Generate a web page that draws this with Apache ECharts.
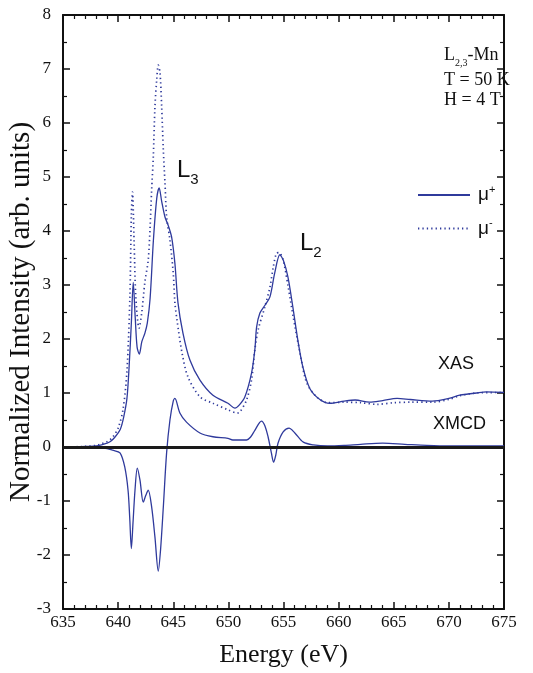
<!DOCTYPE html>
<html>
<head>
<meta charset="utf-8">
<script src="https://cdn.jsdelivr.net/npm/echarts@6/dist/echarts.min.js"></script>
<style>
  html, body { margin: 0; padding: 0; background: #fff; }
  #chart { width: 533px; height: 673px; }
</style>
</head>
<body>
<div id="chart"></div>
<script>
// Mn L2,3-edge absorption spectra for the two circular polarisations and their difference (XMCD)
const muPlusEnergy = [635, 636, 637, 638, 638.5, 639, 639.3, 639.7, 640.2, 640.5, 640.8, 641.0, 641.2, 641.37, 641.55, 641.72, 641.92, 642.15, 642.43, 642.65, 642.9, 643.2, 643.5, 643.72, 643.95, 644.25, 644.55, 644.85, 645.15, 645.43, 645.88, 646.51, 647.42, 648.6, 649.96, 650.6, 651.0, 651.5, 652.1, 652.4, 652.56, 652.86, 653.3, 653.77, 654.2, 654.67, 655.0, 655.4, 655.85, 656.3, 656.76, 657.4, 658.3, 659.2, 660.5, 661.5, 662.8, 664.0, 665.3, 666.5, 668.5, 670.0, 671.0, 672.5, 673.4, 675];
const muPlusValue = [0.0, 0.0, 0.01, 0.02, 0.04, 0.07, 0.1, 0.18, 0.33, 0.55, 0.9, 1.5, 2.3, 3.05, 2.4, 1.85, 1.72, 1.95, 2.11, 2.3, 2.75, 3.83, 4.6, 4.8, 4.55, 4.26, 4.1, 3.89, 3.4, 2.67, 2.11, 1.61, 1.24, 0.96, 0.81, 0.72, 0.78, 0.93, 1.37, 1.8, 2.22, 2.48, 2.62, 2.78, 3.22, 3.56, 3.45, 3.15, 2.59, 1.98, 1.48, 1.08, 0.88, 0.81, 0.85, 0.87, 0.83, 0.86, 0.9, 0.88, 0.85, 0.9, 0.96, 1.0, 1.02, 1.01];

const muMinusEnergy = [635, 637, 638, 638.5, 639, 639.5, 640.0, 640.44, 640.8, 641.07, 641.2, 641.3, 641.45, 641.6, 641.9, 642.15, 642.43, 642.73, 642.9, 643.04, 643.19, 643.34, 643.5, 643.64, 643.8, 643.95, 644.1, 644.25, 644.4, 644.7, 645.0, 645.15, 645.34, 645.8, 646.33, 647.42, 648.6, 649.96, 650.8, 651.05, 651.65, 652.1, 652.4, 652.7, 653.3, 653.77, 654.07, 654.37, 654.6, 654.97, 655.43, 655.88, 656.5, 657.1, 658.0, 659, 660.5, 662, 663.5, 665, 666.5, 668.5, 670, 671, 672.5, 675];
const muMinusValue = [0, 0.01, 0.03, 0.06, 0.1, 0.18, 0.35, 0.69, 1.4, 2.8, 4.3, 4.72, 3.8, 2.8, 2.2, 2.5, 3.06, 3.46, 4.07, 4.76, 5.37, 6.3, 6.8, 7.07, 6.93, 6.3, 5.5, 4.89, 4.26, 3.83, 3.22, 2.67, 2.35, 1.74, 1.3, 0.93, 0.81, 0.69, 0.63, 0.65, 0.87, 1.24, 1.8, 2.17, 2.59, 2.96, 3.33, 3.59, 3.6, 3.46, 2.96, 2.41, 1.74, 1.19, 0.93, 0.82, 0.83, 0.82, 0.79, 0.82, 0.83, 0.83, 0.88, 0.95, 1.0, 1.01];

const xmcdEnergy = [635, 637, 638, 639, 639.5, 640.17, 640.6, 640.9, 641.05, 641.2, 641.35, 641.53, 641.74, 641.98, 642.28, 642.5, 642.73, 643.04, 643.34, 643.64, 643.85, 644.1, 644.4, 644.7, 645.0, 645.15, 645.6, 646.2, 647.42, 648.6, 649.96, 650.4, 651.65, 652.0, 652.4, 653.0, 653.3, 653.6, 653.9, 654.1, 654.3, 654.5, 654.97, 655.5, 656.03, 656.8, 657.7, 659, 660.5, 662, 664, 666, 668, 670, 675];
const xmcdValue = [0, 0, -0.01, -0.03, -0.06, -0.11, -0.37, -0.8, -1.3, -1.88, -1.4, -0.8, -0.39, -0.61, -1.02, -0.9, -0.8, -1.11, -1.67, -2.3, -1.9, -1.11, -0.1, 0.5, 0.85, 0.9, 0.63, 0.46, 0.26, 0.19, 0.16, 0.13, 0.13, 0.18, 0.31, 0.48, 0.4, 0.19, -0.11, -0.28, -0.15, 0.07, 0.28, 0.35, 0.26, 0.09, 0.04, 0.02, 0.03, 0.05, 0.07, 0.05, 0.03, 0.02, 0.02];

const energyTicks = [635, 640, 645, 650, 655, 660, 665, 670, 675];
const intensityTicks = [-3, -2, -1, 0, 1, 2, 3, 4, 5, 6, 7, 8];

const legendNames = ['μ+', 'μ-'];

const pairs = (xs, ys) => xs.map((x, i) => [x, ys[i]]);

const lineColor = '#2f3a9c';
const serif = '"Liberation Serif", "DejaVu Serif", serif';
const sans = '"Liberation Sans", Arial, sans-serif';

const chart = echarts.init(document.getElementById('chart'), null, { renderer: 'canvas' });

const baseX = {
  type: 'value',
  min: energyTicks[0],
  max: energyTicks[energyTicks.length - 1],
  interval: 5,
  splitLine: { show: false },
  axisLine: { onZero: false, lineStyle: { color: '#111', width: 2 } },
  axisTick: { inside: true, length: 7, lineStyle: { color: '#111', width: 1.5 } },
  minorTick: { show: true, splitNumber: 5, length: 4, lineStyle: { color: '#111', width: 1.2 } }
};
const baseY = {
  type: 'value',
  min: intensityTicks[0],
  max: intensityTicks[intensityTicks.length - 1],
  interval: 1,
  splitLine: { show: false },
  axisLine: { onZero: false, lineStyle: { color: '#111', width: 2 } },
  axisTick: { inside: true, length: 7, lineStyle: { color: '#111', width: 1.5 } },
  minorTick: { show: true, splitNumber: 2, length: 4, lineStyle: { color: '#111', width: 1.2 } }
};

chart.setOption({
  animation: false,
  backgroundColor: '#fff',
  grid: { left: 63, right: 29, top: 15, bottom: 64, containLabel: false, outerBoundsMode: 'none' },
  xAxis: [
    Object.assign({}, baseX, {
      position: 'bottom',
      name: 'Energy (eV)',
      nameLocation: 'middle',
      nameGap: 33,
      nameMoveOverlap: false,
      nameTextStyle: { fontFamily: serif, fontSize: 26, color: '#111' },
      axisLabel: { fontFamily: serif, fontSize: 17, color: '#111', margin: 5 }
    }),
    Object.assign({}, baseX, { position: 'top', axisLabel: { show: false } })
  ],
  yAxis: [
    Object.assign({}, baseY, {
      position: 'left',
      name: 'Normalized Intensity (arb. units)',
      nameLocation: 'middle',
      nameRotate: 90,
      nameGap: 27,
      nameMoveOverlap: false,
      nameTextStyle: { fontFamily: serif, fontSize: 29, color: '#111' },
      axisLabel: { fontFamily: serif, fontSize: 17, color: '#111', margin: 12 }
    }),
    Object.assign({}, baseY, { position: 'right', axisLabel: { show: false } })
  ],
  legend: {
    data: legendNames,
    orient: 'vertical',
    left: 417,
    top: 184,
    padding: 0,
    itemWidth: 52,
    itemHeight: 22,
    itemGap: 13,
    itemStyle: { opacity: 0 },
    formatter: name => '{m|μ}{s|' + name.slice(1) + '}',
    textStyle: {
      color: '#111',
      padding: [0, 0, 0, 3],
      rich: {
        m: { fontFamily: sans, fontSize: 19, lineHeight: 22, color: '#111' },
        s: { fontFamily: sans, fontSize: 11, verticalAlign: 'top', lineHeight: 22, color: '#111' }
      }
    }
  },
  series: [
    {
      name: legendNames[0],
      type: 'line',
      data: pairs(muPlusEnergy, muPlusValue),
      showSymbol: false,
      symbol: 'none',
      smooth: 0.3,
      lineStyle: { color: lineColor, width: 1.3 },
      itemStyle: { color: lineColor },
      z: 3
    },
    {
      name: legendNames[1],
      type: 'line',
      data: pairs(muMinusEnergy, muMinusValue),
      showSymbol: false,
      symbol: 'none',
      smooth: 0.3,
      lineStyle: { color: lineColor, width: 1.7, type: [1.3, 3.1] },
      itemStyle: { color: lineColor },
      z: 3
    },
    {
      name: 'XMCD',
      type: 'line',
      data: pairs(xmcdEnergy, xmcdValue),
      showSymbol: false,
      symbol: 'none',
      smooth: 0.3,
      lineStyle: { color: lineColor, width: 1.3 },
      itemStyle: { color: lineColor },
      z: 4,
      markLine: {
        silent: true,
        symbol: 'none',
        label: { show: false },
        lineStyle: { color: '#1a1a1a', width: 3, type: 'solid' },
        data: [{ yAxis: 0 }]
      }
    }
  ],
  graphic: [
    {
      type: 'text', left: 177, top: 158,
      style: {
        text: '{l|L}{s|3}',
        rich: {
          l: { fontFamily: sans, fontSize: 24, fill: '#111', lineHeight: 26 },
          s: { fontFamily: sans, fontSize: 15, fill: '#111', verticalAlign: 'bottom', lineHeight: 34 }
        }
      }
    },
    {
      type: 'text', left: 300, top: 231,
      style: {
        text: '{l|L}{s|2}',
        rich: {
          l: { fontFamily: sans, fontSize: 24, fill: '#111', lineHeight: 26 },
          s: { fontFamily: sans, fontSize: 15, fill: '#111', verticalAlign: 'bottom', lineHeight: 34 }
        }
      }
    },
    {
      type: 'text', left: 438, top: 355,
      style: { text: 'XAS', fontFamily: sans, fontSize: 18, fill: '#111' }
    },
    {
      type: 'text', left: 433, top: 415,
      style: { text: 'XMCD', fontFamily: sans, fontSize: 18, fill: '#111' }
    },
    {
      type: 'text', left: 444, top: 46,
      style: {
        text: '{b|L}{s|2,3}{b|-Mn}',
        rich: {
          b: { fontFamily: serif, fontSize: 18, fill: '#111', lineHeight: 20 },
          s: { fontFamily: serif, fontSize: 10, fill: '#111', verticalAlign: 'bottom', lineHeight: 26 }
        }
      }
    },
    {
      type: 'text', left: 444, top: 71,
      style: { text: 'T = 50 K', fontFamily: serif, fontSize: 18, fill: '#111' }
    },
    {
      type: 'text', left: 444, top: 91,
      style: { text: 'H = 4 T', fontFamily: serif, fontSize: 18, fill: '#111' }
    }
  ]
});
</script>
</body>
</html>
